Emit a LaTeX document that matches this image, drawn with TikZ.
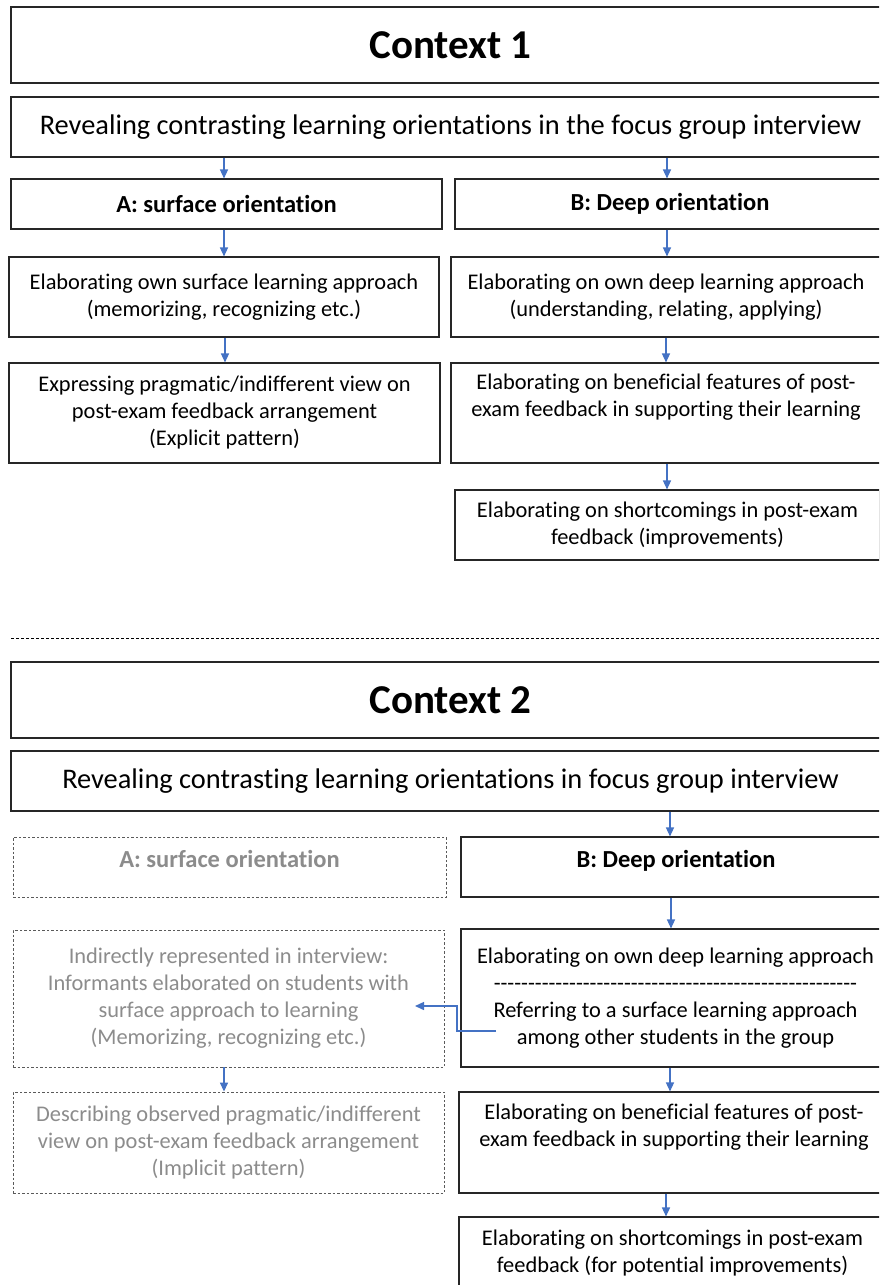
\documentclass[tikz,border=0pt]{standalone}
\usepackage{fontspec}
\setmainfont{Carlito}[Ligatures={NoCommon}]
\usetikzlibrary{arrows.meta}
\definecolor{arrblue}{HTML}{4472C4}
\definecolor{greytext}{HTML}{8C8C8C}
\definecolor{greyline}{HTML}{5A5A5A}
\newcommand\hyphenrow[1]{\ifnum#1>0 -\kern0pt\expandafter\hyphenrow\expandafter{\the\numexpr#1-1\relax}\fi}
\begin{document}
\begin{tikzpicture}[x=1pt,y=-1pt,
  box/.style={draw=black!85, line width=1.1pt, inner sep=0pt, align=center,
    font=\fontsize{22.4}{27}\selectfont},
  dbox/.style={draw=greyline, line width=0.9pt, dash pattern=on 2.5pt off 2pt,
    inner sep=0pt, align=center, text=greytext, font=\fontsize{22.4}{27}\selectfont},
  titlebox/.style={box, font=\fontsize{41}{48}\bfseries\selectfont},
  revbox/.style={box, font=\fontsize{28.4}{33}\selectfont},
  headbox/.style={box, font=\fontsize{24.5}{29}\bfseries\selectfont},
  arr/.style={draw=arrblue, line width=1.4pt, -{Triangle[length=9pt,width=8pt]}},
  sep/.style={draw=black, line width=0.8pt, dash pattern=on 3pt off 2pt},
]
\useasboundingbox (0,0) rectangle (879,1285);
\fill[white] (0,0) rectangle (879,1285);
\clip (0,0) rectangle (879,1285);

% ---------------- Context 1 ----------------
\node[titlebox, minimum width=879pt, minimum height=76pt] (c1) at (450.5,45) {Context 1};
\node[revbox, minimum width=879pt, minimum height=60pt] (r1) at (450.5,127)
  {Revealing contrasting learning orientations in the focus group interview};
\node[headbox, minimum width=431pt, minimum height=50pt] (a1) at (226.5,204) {A: surface orientation};
\node[headbox, minimum width=430pt, minimum height=50pt] (b1) at (670,204) {B: Deep orientation};
\node[box, minimum width=430pt, minimum height=80pt] (a2) at (224,297)
  {Elaborating own surface learning approach\\(memorizing, recognizing etc.)};
\node[box, minimum width=430pt, minimum height=80pt] (b2) at (666,297)
  {Elaborating on own deep learning approach\\(understanding, relating, applying)};
\node[box, minimum width=431pt, minimum height=100pt] (a3) at (224.5,413)
  {Expressing pragmatic/indifferent view on\\post-exam feedback arrangement\\(Explicit pattern)};
\node[box, minimum width=430pt, minimum height=100pt] (b3) at (666,413)
  {Elaborating on beneficial features of post-\\exam feedback in supporting their learning\\\strut};
\node[box, minimum width=425pt, minimum height=70pt] (b4) at (667.5,525)
  {Elaborating on shortcomings in post-exam\\feedback (improvements)};

\draw[arr] (r1.south -| 224,0) -- (a1.north -| 224,0);
\draw[arr] (r1.south -| 667,0) -- (b1.north -| 667,0);
\draw[arr] (a1.south -| 224,0) -- (a2.north -| 224,0);
\draw[arr] (b1.south -| 667,0) -- (b2.north -| 667,0);
\draw[arr] (a2.south -| 225,0) -- (a3.north -| 225,0);
\draw[arr] (b2.south -| 666,0) -- (b3.north -| 666,0);
\draw[arr] (b3.south -| 667,0) -- (b4.north -| 667,0);

% separator
\draw[sep] (11,638) -- (879,638);

% ---------------- Context 2 ----------------
\node[titlebox, minimum width=879pt, minimum height=76pt] (c2) at (450.5,700) {Context 2};
\node[revbox, minimum width=879pt, minimum height=60pt] (r2) at (450.5,781)
  {Revealing contrasting learning orientations in focus group interview};
\node[dbox, font=\fontsize{24.5}{29}\bfseries\selectfont, text depth=17pt,
  minimum width=433pt, minimum height=60pt] (sa1) at (229.5,867) {A: surface orientation};
\node[headbox, text depth=17pt, minimum width=430pt, minimum height=60pt] (sb1) at (676,867) {B: Deep orientation};
\node[dbox, minimum width=431pt, minimum height=137pt] (sa2) at (228.5,998.5)
  {Indirectly represented in interview:\\Informants elaborated on students with\\surface approach to learning\\(Memorizing, recognizing etc.)};
\node[box, minimum width=429pt, minimum height=138pt] (sb2) at (675.5,998)
  {Elaborating on own deep learning approach\\\hyphenrow{53}\\Referring to a surface learning approach\\among other students in the group};
\node[dbox, minimum width=431pt, minimum height=101pt] (sa3) at (228.5,1142.5)
  {Describing observed pragmatic/indifferent\\view on post-exam feedback arrangement\\(Implicit pattern)};
\node[box, minimum width=430pt, minimum height=101pt] (sb3) at (674,1142.5)
  {Elaborating on beneficial features of post-\\exam feedback in supporting their learning\\\strut};
\node[box, minimum width=427pt, minimum height=73pt] (sb4) at (672.5,1253.5)
  {Elaborating on shortcomings in post-exam\\feedback (for potential improvements)};

\draw[arr] (r2.south -| 670,0) -- (sb1.north -| 670,0);
\draw[arr] (sb1.south -| 671,0) -- (sb2.north -| 671,0);
\draw[arr] (sa2.south -| 224,0) -- (sa3.north -| 224,0);
\draw[arr] (sb2.south -| 670,0) -- (sb3.north -| 670,0);
\draw[arr] (sb3.south -| 666,0) -- (sb4.north -| 666,0);

\coordinate (es) at (496,1031);
\coordinate (ee) at (415,1006);
\draw[arr] (es) -- ++(-39,0) |- (ee);
\end{tikzpicture}
\end{document}
